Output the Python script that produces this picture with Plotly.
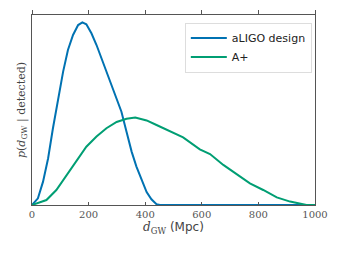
import plotly.graph_objects as go

# aLIGO design curve
aligo_x = [0, 21, 39, 57, 74, 92, 110, 127, 145, 163, 178, 192, 210, 228, 245, 263, 281, 299, 316, 334, 352, 369, 387, 405, 422, 440, 452, 1000]
aligo_y = [0, 0.035, 0.123, 0.246, 0.404, 0.561, 0.702, 0.816, 0.895, 0.947, 0.961, 0.951, 0.904, 0.842, 0.772, 0.702, 0.632, 0.561, 0.491, 0.386, 0.281, 0.202, 0.132, 0.068, 0.030, 0.004, 0, 0]

# A+ curve
aplus_x = [0, 51, 86, 122, 157, 192, 228, 263, 299, 334, 365, 405, 440, 475, 534, 593, 629, 676, 723, 770, 817, 865, 912, 947, 970, 1000]
aplus_y = [0, 0.026, 0.079, 0.158, 0.237, 0.307, 0.360, 0.404, 0.437, 0.454, 0.460, 0.445, 0.421, 0.398, 0.356, 0.293, 0.268, 0.211, 0.163, 0.114, 0.079, 0.040, 0.018, 0.005, 0, 0]

x_ticks = [0, 200, 400, 600, 800, 1000]

fig = go.Figure()
fig.add_trace(go.Scatter(x=aligo_x, y=aligo_y, mode="lines", name="aLIGO design",
                         line=dict(color="#0072B2", width=2)))
fig.add_trace(go.Scatter(x=aplus_x, y=aplus_y, mode="lines", name="A+",
                         line=dict(color="#009E73", width=2)))
# invisible trace for top axis ticks
fig.add_trace(go.Scatter(x=[0, 1000], y=[0, 0], xaxis="x2", mode="lines",
                         line=dict(width=0), showlegend=False, hoverinfo="skip"))

axis_col = "#555555"
# page body has an 8px default margin, so the figure is shifted by 8px
fig.update_layout(
    width=333, height=248,
    margin=dict(l=24, r=26, t=7, b=51),
    paper_bgcolor="white", plot_bgcolor="white",
    showlegend=True,
    legend=dict(x=0.54, y=0.96, xanchor="left", yanchor="top",
                bgcolor="white", bordercolor="#dddddd", borderwidth=1,
                font=dict(family="DejaVu Sans", size=11, color="#222222"),
                itemwidth=36, tracegroupgap=0),
    xaxis=dict(range=[0, 1000], tickvals=x_ticks, ticktext=[str(v) for v in x_ticks],
               showgrid=False, zeroline=False, showline=True, linecolor=axis_col,
               linewidth=1, mirror=True, ticks="inside", ticklen=3, tickcolor=axis_col,
               automargin=False,
               tickfont=dict(family="DejaVu Serif", size=10, color=axis_col),
               title=dict(text="<i>d</i><sub>GW</sub> <span style='font-family:DejaVu Sans'>(Mpc)</span>",
                          font=dict(family="DejaVu Serif", size=12, color="#444444"), standoff=2)),
    xaxis2=dict(range=[0, 1000], overlaying="x", side="top", tickvals=x_ticks,
                showticklabels=False, ticks="outside", ticklen=4, tickcolor=axis_col,
                showgrid=False, zeroline=False, showline=False, automargin=False),
    yaxis=dict(range=[0, 1.0], showticklabels=False, ticks="", showgrid=False,
               zeroline=False, showline=True, linecolor=axis_col, linewidth=1, mirror=True,
               automargin=False),
    annotations=[dict(text="<i>p</i>(<i>d</i><sub>GW</sub> | detected)",
                      xref="paper", yref="paper", x=0, y=0.5, xanchor="center", yanchor="middle",
                      xshift=-10, textangle=-90, showarrow=False,
                      font=dict(family="DejaVu Serif", size=11, color="#444444"))],
)

fig.write_html("out.html")
